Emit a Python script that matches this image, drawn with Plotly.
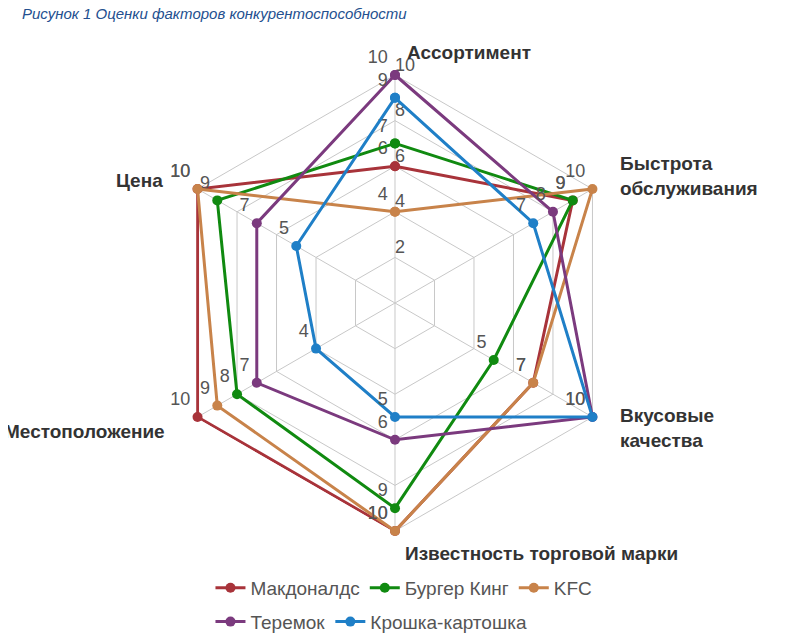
import plotly.graph_objects as go

factors = ["Ассортимент", "Быстрота обслуживания", "Вкусовые качества",
           "Известность торговой марки", "Местоположение", "Цена"]

mcdonalds = [6, 9, 7, 10, 10, 10]
burger_king = [7, 9, 5, 9, 8, 9]
kfc = [4, 10, 7, 10, 9, 10]
teremok = [10, 8, 10, 6, 7, 7]
kroshka = [9, 7, 10, 5, 4, 5]

radial_ticks = [2, 4, 6, 8, 10]

series = [
    ("Макдоналдс", mcdonalds, "#a8333a", "legend"),
    ("Бургер Кинг", burger_king, "#108a10", "legend"),
    ("KFC", kfc, "#c8834a", "legend"),
    ("Теремок", teremok, "#7b3a7e", "legend2"),
    ("Крошка-картошка", kroshka, "#1f7fc7", "legend2"),
]

fig = go.Figure()

# radial scale numbers, horizontal, right of the top spoke
fig.add_trace(go.Scatterpolar(
    r=radial_ticks, theta=[factors[0]] * len(radial_ticks),
    mode="text", text=[str(t) for t in radial_ticks],
    textposition="top right", textfont=dict(size=18, color="#555555"),
    showlegend=False, hoverinfo="skip", cliponaxis=False,
))

for name, vals, color, leg in series:
    fig.add_trace(go.Scatterpolar(
        r=vals + vals[:1],
        theta=factors + factors[:1],
        name=name,
        legend=leg,
        mode="lines+markers+text",
        text=[str(v) for v in vals] + [""],
        textposition="top left",
        textfont=dict(size=18, color="#555555"),
        line=dict(color=color, width=3),
        marker=dict(size=10, color=color),
        cliponaxis=False,
    ))

# factor labels placed by hand like in the original picture
label_pos = [
    (0.500, 0.931, "left"),
    (0.768, 0.737, "left"),
    (0.768, 0.344, "left"),
    (0.4975, 0.148, "left"),
    (0.2, 0.338, "right"),
    (0.198, 0.731, "right"),
]
for f, (x, y, anchor) in zip(factors, label_pos):
    words = f.split(" ")
    txt = "<br>".join(words) if len(words) == 2 else f
    fig.add_annotation(x=x, y=y, xref="paper", yref="paper", text="<b>" + txt + "</b>",
                       showarrow=False, xanchor=anchor, yanchor="middle", align="left",
                       font=dict(size=19, color="#333333"))

fig.update_layout(
    width=794, height=640,
    margin=dict(l=0, r=0, t=0, b=0),
    paper_bgcolor="white",
    font=dict(family="Liberation Sans, Arial, sans-serif", color="#555555", size=16),
    title=dict(text="Рисунок 1 Оценки факторов конкурентоспособности",
               x=0.0176, y=0.991, xanchor="left", yanchor="middle",
               font=dict(size=15, color="#24508f", style="italic")),
    polar=dict(
        # range a bit past 10 so lines on the outer ring are not cut in half
        domain=dict(x=[0.19824, 0.77657], y=[0.18031, 0.89781]),
        gridshape="linear",
        bgcolor="white",
        radialaxis=dict(range=[0, 10.07], tickvals=radial_ticks, angle=90,
                        showticklabels=False, showline=False, gridcolor="#c8c8c8",
                        ticks="", layer="below traces"),
        angularaxis=dict(rotation=90, direction="clockwise", showticklabels=False,
                         showline=False, gridcolor="#c8c8c8", ticks="",
                         layer="below traces"),
    ),
    legend=dict(orientation="h", x=0.255, xanchor="left", y=0.094, yanchor="middle",
                font=dict(size=19, color="#555555")),
    legend2=dict(orientation="h", x=0.255, xanchor="left", y=0.041, yanchor="middle",
                 font=dict(size=19, color="#555555")),
)

fig.write_html("out.html")
